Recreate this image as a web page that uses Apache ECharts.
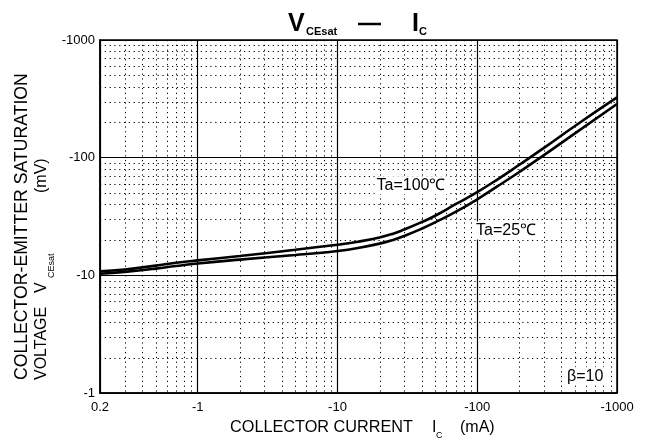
<!DOCTYPE html>
<html><head><meta charset="utf-8">
<script src="https://cdn.jsdelivr.net/npm/echarts@6/dist/echarts.min.js"></script>
<style>html,body{margin:0;padding:0;background:#fff}#c{width:648px;height:443px}</style>
</head><body><div id="c"></div>
<script>
// ---- data ----
const xTicks = [0.2, 1, 10, 100, 1000];
const xTickLabels = ['0.2', '-1', '-10', '-100', '-1000'];
const yTicks = [1, 10, 100, 1000];
const yTickLabels = ['-1', '-10', '-100', '-1000'];
const currentMA = [0.2, 0.3, 0.5, 0.7, 1, 2, 5, 7, 10, 14, 20, 25, 30, 40, 50, 70, 100, 140, 200, 300, 500, 1000];
const vceTa100 = [10.8, 11.2, 12.1, 12.8, 13.4, 14.6, 16.5, 17.3, 18.2, 19.3, 21.0, 22.6, 24.5, 28.3, 32.1, 40.2, 51, 65.5, 87, 121, 186, 325];
const vceTa25 = [10.3, 10.7, 11.4, 12.0, 12.6, 13.6, 14.9, 15.4, 16.1, 17.1, 18.6, 20.0, 21.6, 24.9, 28.2, 34.6, 44.3, 57.2, 75.6, 105, 161, 286];
const minorX = [0.3,0.4,0.5,0.6,0.7,0.8,0.9, 2,3,4,5,6,7,8,9, 20,30,40,50,60,70,80,90, 200,300,400,500,600,700,800,900];
const minorY = [2,3,4,5,6,7,8,9, 20,30,40,50,60,70,80,90, 200,300,400,500,600,700,800,900];
const noteText = ['Ta=100℃', 'Ta=25℃', 'β=10'];
const noteX = [33.6, 161, 592];
const noteY = [58.2, 24.1, 1.39];

const FF = '"Liberation Sans", Arial, sans-serif';
const mctx = document.createElement('canvas').getContext('2d');
function fitSize(text, target, base) {
  mctx.font = base + 'px ' + FF;
  const w = mctx.measureText(text).width;
  return base * target / w;
}
function lookup(v, ticks, labels) {
  for (let i = 0; i < ticks.length; i++) {
    if (Math.abs(Math.log10(v) - Math.log10(ticks[i])) < 1e-6) return labels[i];
  }
  return '';
}
const dotted = {stroke: '#000', lineWidth: 1, lineDash: [1.2, 3.6]};
function crisp(v) { return Math.round(v) + 0.5; }

const xTitleSize = fitSize('COLLECTOR CURRENT', 183, 16);
const yTitleSize = fitSize('COLLECTOR-EMITTER SATURATION', 307, 17);

const chart = echarts.init(document.getElementById('c'), null, {renderer: 'canvas'});
chart.setOption({
  animation: false,
  backgroundColor: '#fff',
  grid: {left: 100, right: 31, top: 40, bottom: 50, show: true, borderColor: '#000', borderWidth: 1.5, backgroundColor: 'transparent'},
  xAxis: {
    type: 'log', logBase: 10, min: 0.2, max: 1000,
    axisLine: {show: true, lineStyle: {color: '#000', width: 1.5}},
    axisTick: {show: false},
    splitLine: {show: true, lineStyle: {color: '#000', width: 1.2}},
    axisLabel: {showMinLabel: true, showMaxLabel: true, color: '#000', fontSize: 13, fontFamily: FF, margin: 8,
      formatter: v => lookup(v, xTicks, xTickLabels)}
  },
  yAxis: {
    type: 'log', logBase: 10, min: 1, max: 1000,
    axisLine: {show: true, lineStyle: {color: '#000', width: 1.5}},
    axisTick: {show: false},
    splitLine: {show: true, lineStyle: {color: '#000', width: 1.2}},
    axisLabel: {showMinLabel: true, showMaxLabel: true, color: '#000', fontSize: 13, fontFamily: FF, margin: 5,
      formatter: v => lookup(v, yTicks, yTickLabels)}
  },
  series: [
    {
      type: 'custom', z: 1, silent: true,
      data: minorX.map(v => [v, 10]),
      renderItem: (params, api) => {
        const cs = params.coordSys;
        const x = crisp(api.coord([api.value(0), 10])[0]);
        return {type: 'line', shape: {x1: x, y1: cs.y, x2: x, y2: cs.y + cs.height}, style: dotted};
      }
    },
    {
      type: 'custom', z: 1, silent: true,
      data: minorY.map(v => [1, v]),
      renderItem: (params, api) => {
        const cs = params.coordSys;
        const y = crisp(api.coord([1, api.value(1)])[1]);
        return {type: 'line', shape: {x1: cs.x, y1: y, x2: cs.x + cs.width, y2: y}, style: dotted};
      }
    },
    {
      name: 'Ta=100℃', type: 'line', z: 3, smooth: 0.5, showSymbol: false,
      data: currentMA.map((x, i) => [x, vceTa100[i]]),
      lineStyle: {color: '#000', width: 2.6}
    },
    {
      name: 'Ta=25℃', type: 'line', z: 3, smooth: 0.5, showSymbol: false,
      data: currentMA.map((x, i) => [x, vceTa25[i]]),
      lineStyle: {color: '#000', width: 2.6}
    },
    {
      type: 'custom', z: 5, silent: true,
      data: noteX.map((x, i) => [x, noteY[i]]),
      renderItem: (params, api) => {
        const p = api.coord([api.value(0), api.value(1)]);
        return {type: 'text', x: p[0], y: p[1], style: {
          text: noteText[params.dataIndex], fill: '#000', font: '16px ' + FF,
          align: 'center', verticalAlign: 'middle', backgroundColor: '#fff', padding: [1, 2]
        }};
      }
    }
  ],
  graphic: [
    // title
    {type: 'text', x: 288, y: 24, style: {text: 'V', font: 'bold 25px ' + FF, fill: '#000', align: 'left', verticalAlign: 'middle'}},
    {type: 'text', x: 306, y: 32, style: {text: 'CEsat', font: 'bold 11px ' + FF, fill: '#000', align: 'left', verticalAlign: 'middle'}},
    {type: 'line', shape: {x1: 358, y1: 24, x2: 381, y2: 24}, style: {stroke: '#000', lineWidth: 2.5}},
    {type: 'text', x: 412, y: 24, style: {text: 'I', font: 'bold 25px ' + FF, fill: '#000', align: 'left', verticalAlign: 'middle'}},
    {type: 'text', x: 419, y: 32, style: {text: 'C', font: 'bold 11px ' + FF, fill: '#000', align: 'left', verticalAlign: 'middle'}},
    // x axis title
    {type: 'text', x: 230, y: 428, style: {text: 'COLLECTOR CURRENT', font: xTitleSize.toFixed(2) + 'px ' + FF, fill: '#000', align: 'left', verticalAlign: 'middle'}},
    {type: 'text', x: 432, y: 428, style: {text: 'I', font: '16px ' + FF, fill: '#000', align: 'left', verticalAlign: 'middle'}},
    {type: 'text', x: 436, y: 436, style: {text: 'C', font: '9px ' + FF, fill: '#000', align: 'left', verticalAlign: 'middle'}},
    {type: 'text', x: 460, y: 428, style: {text: '(mA)', font: '16px ' + FF, fill: '#000', align: 'left', verticalAlign: 'middle'}},
    // y axis title
    {type: 'text', x: 22, y: 380, rotation: Math.PI / 2, style: {text: 'COLLECTOR-EMITTER SATURATION', font: yTitleSize.toFixed(2) + 'px ' + FF, fill: '#000', align: 'left', verticalAlign: 'middle'}},
    {type: 'text', x: 42, y: 380, rotation: Math.PI / 2, style: {text: 'VOLTAGE', font: '16px ' + FF, fill: '#000', align: 'left', verticalAlign: 'middle'}},
    {type: 'text', x: 42, y: 293, rotation: Math.PI / 2, style: {text: 'V', font: '16px ' + FF, fill: '#000', align: 'left', verticalAlign: 'middle'}},
    {type: 'text', x: 52, y: 278, rotation: Math.PI / 2, style: {text: 'CEsat', font: '9px ' + FF, fill: '#000', align: 'left', verticalAlign: 'middle'}},
    {type: 'text', x: 42, y: 193, rotation: Math.PI / 2, style: {text: '(mV)', font: '16px ' + FF, fill: '#000', align: 'left', verticalAlign: 'middle'}}
  ]
});
</script>
</body></html>
